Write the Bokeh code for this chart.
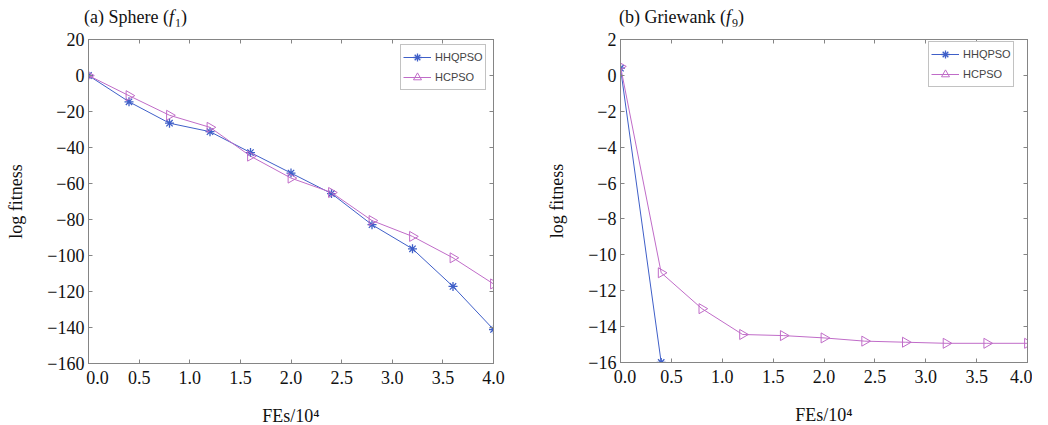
import math
from bokeh.plotting import figure
from bokeh.layouts import row, column
from bokeh.models import LinearAxis, FixedTicker, Range1d, Div
from bokeh.embed import file_html
from bokeh.resources import INLINE

# ---------------- data ----------------
fes = [0.0, 0.4, 0.8, 1.2, 1.6, 2.0, 2.4, 2.8, 3.2, 3.6, 4.0]

sphere_hhqpso = [0.0, -14.6, -26.5, -31.2, -42.8, -54.2, -65.6, -82.9, -96.3, -117.2, -141.1]
sphere_hcpso = [0.0, -11.2, -22.1, -28.8, -44.8, -57.0, -65.0, -80.6, -89.4, -101.3, -115.8]

griewank_fes_hhqpso = [0.0, 0.4]
griewank_hhqpso = [0.4, -16.0]
griewank_hcpso = [0.5, -11.0, -13.0, -14.44, -14.5, -14.63, -14.81, -14.87, -14.93, -14.93, -14.93]

x_ticks = [0.0, 0.5, 1.0, 1.5, 2.0, 2.5, 3.0, 3.5, 4.0]
x_tick_labels = ["0.0", "0.5", "1.0", "1.5", "2.0", "2.5", "3.0", "3.5", "4.0"]
sphere_y_ticks = [20, 0, -20, -40, -60, -80, -100, -120, -140, -160]
griewank_y_ticks = [2, 0, -2, -4, -6, -8, -10, -12, -14, -16]

series_names = ["HHQPSO", "HCPSO"]
x_label = "FEs/10\u2074"
y_label = "log fitness"
title_a = ("(a) Sphere (", "f", "1", ")")
title_b = ("(b) Griewank (", "f", "9", ")")

# ---------------- style ----------------
BLUE = "#3f5fc8"
MAGENTA = "#c06cc8"
AXIS_GREY = "#858585"
SERIF = "Liberation Serif"
SANS = "Liberation Sans"
FS = "18px"
TITLE_H = 26


def fmt_minus(v):
    return str(v).replace("-", "\u2212")


def make_fig(yr, yticks, frame_w, frame_h, bl, br, bt, bb, zero_pad):
    p = figure(frame_width=frame_w, frame_height=frame_h,
               x_range=Range1d(0, 4), y_range=Range1d(*yr),
               output_backend="svg", toolbar_location=None,
               min_border_left=bl, min_border_right=br,
               min_border_top=bt, min_border_bottom=bb,
               x_axis_location=None, y_axis_location=None)
    p.grid.visible = False
    p.outline_line_color = AXIS_GREY
    p.background_fill_color = "white"
    p.border_fill_color = "white"

    xo = {x: (zero_pad + l if x == 0 else l) for x, l in zip(x_ticks, x_tick_labels)}
    yo = {y: fmt_minus(y) for y in yticks}

    bottom = LinearAxis(ticker=FixedTicker(ticks=x_ticks), major_label_overrides=xo)
    left = LinearAxis(ticker=FixedTicker(ticks=yticks), major_label_overrides=yo)
    top = LinearAxis(ticker=FixedTicker(ticks=x_ticks),
                     major_label_overrides={x: "" for x in x_ticks})
    right = LinearAxis(ticker=FixedTicker(ticks=yticks),
                       major_label_overrides={y: "" for y in yticks})
    for ax in (bottom, left, top, right):
        ax.axis_line_color = AXIS_GREY
        ax.major_tick_line_color = AXIS_GREY
        ax.major_tick_in = 4
        ax.major_tick_out = 0
        ax.minor_tick_line_color = None
        ax.major_label_text_font = SERIF
        ax.major_label_text_font_size = FS
        ax.major_label_text_color = "#111111"
    for ax in (top, right):
        ax.major_label_standoff = 0
    bottom.major_label_standoff = 4
    left.major_label_standoff = 4
    bottom.axis_label = x_label
    left.axis_label = y_label
    for ax in (bottom, left):
        ax.axis_label_text_font = SERIF
        ax.axis_label_text_font_size = FS
        ax.axis_label_text_font_style = "normal"
        ax.axis_label_text_color = "#111111"
    bottom.axis_label_standoff = 15
    left.axis_label_standoff = 18
    p.add_layout(bottom, "below")
    p.add_layout(left, "left")
    p.add_layout(top, "above")
    p.add_layout(right, "right")
    return p


def make_title(parts, width, pad_left, pad_top):
    main, f, sub, close = parts
    html = (f'{main}<i>{f}</i><sub style="font-size:12px;vertical-align:-4px;'
            f'line-height:0;margin-left:1px">{sub}</sub>{close}')
    return Div(text=html, width=width, height=TITLE_H, margin=(0, 0, 0, 0),
               styles={"font-family": SERIF, "font-size": "18px", "color": "#111111",
                       "padding-left": f"{pad_left}px", "padding-top": f"{pad_top}px",
                       "line-height": "19px", "white-space": "nowrap",
                       "box-sizing": "border-box", "overflow": "visible"})


def add_series(p, xs1, ys1, xs2, ys2, loc):
    p.line(xs1, ys1, line_color=BLUE, line_width=1, legend_label=series_names[0])
    p.scatter(xs1, ys1, marker="asterisk", size=9, line_color=BLUE, line_width=1.3,
              legend_label=series_names[0])
    p.line(xs2, ys2, line_color=MAGENTA, line_width=1, legend_label=series_names[1])
    p.scatter(xs2, ys2, marker="triangle", angle=-math.pi / 2, size=10,
              line_color=MAGENTA, fill_color=None, line_width=1,
              legend_label=series_names[1])
    lg = p.legend[0]
    lg.location = loc
    lg.padding = 2
    lg.spacing = -6
    lg.label_text_font = SANS
    lg.label_text_font_size = "11px"
    lg.label_height = 14
    lg.glyph_height = 20
    lg.glyph_width = 28
    lg.label_standoff = 4
    lg.border_line_color = AXIS_GREY
    lg.border_line_width = 1
    lg.background_fill_alpha = 1


# left panel
p1 = make_fig((-160, 20), sphere_y_ticks, 405, 324, 88, 34, 36 - TITLE_H, 49, "\u2002\u2002")
add_series(p1, fes, sphere_hhqpso, fes, sphere_hcpso, (312, 273))

# right panel
p2 = make_fig((-16, 2), griewank_y_ticks, 407, 323, 93, 5, 39 - TITLE_H, 47, "\u2002")
add_series(p2, griewank_fes_hhqpso, griewank_hhqpso, fes, griewank_hcpso, (308, 275))

t1 = make_title(title_a, 527, 84, 8)
t2 = make_title(title_b, 505, 92, 8)

layout = column(row(t1, t2), row(p1, p2))
open("out.html", "w").write(file_html(layout, INLINE))
